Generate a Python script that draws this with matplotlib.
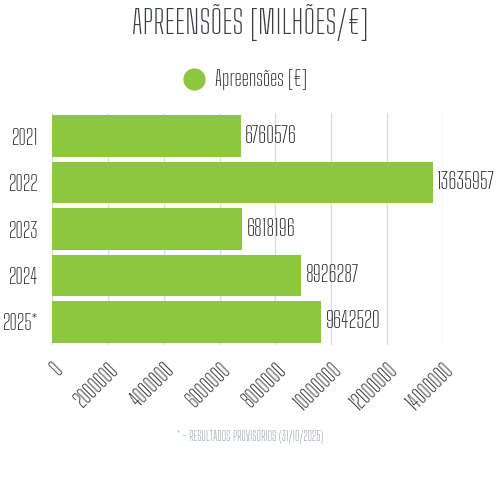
import matplotlib
matplotlib.use("Agg")
import matplotlib.pyplot as plt
from matplotlib.lines import Line2D

years = ["2021", "2022", "2023", "2024", "2025*"]
values = [6760576, 13635957, 6818196, 8926287, 9642520]
xticks = [0, 2000000, 4000000, 6000000, 8000000, 10000000, 12000000, 14000000]
title = "APREENSÕES [MILHÕES/€]"
legend_label = "Apreensões [€]"
footnote = "* - RESULTADOS PROVISÓRIOS (31/10/2025)"

FONT = ["Big Shoulders Text", "DejaVu Sans"]
plt.rcParams["font.family"] = FONT
plt.rcParams["font.weight"] = 600
TXT = "#24262b"
GREEN = "#8dc63f"
FS = 15.5

fig = plt.figure(figsize=(5, 5), dpi=100)
ax = fig.add_axes([0.104, 0.31, 0.782, 0.464])

y = list(range(len(years)))
ax.barh(y, values, height=0.9, color=GREEN, zorder=3)
for yi, v in zip(y, values):
    ax.text(v + 150000, yi, f"{v}", va="center", ha="left", fontsize=16.5, color=TXT)

ax.set_xlim(0, 14000000)
ax.set_ylim(len(years) - 0.5, -0.5)
ax.set_yticks(y)
ax.set_yticklabels(years, fontsize=FS, color=TXT)
ax.set_xticks(xticks)
ax.set_xticklabels([str(t) for t in xticks], rotation=45, ha="right", rotation_mode="anchor",
                   fontsize=FS, color=TXT)
ax.tick_params(axis="y", length=0, pad=10)
ax.tick_params(axis="x", length=0, pad=10)
ax.grid(axis="x", color="#dddddd", linewidth=1, zorder=0)
for s in ax.spines.values():
    s.set_visible(False)

fig.text(0.5, 0.955, title, ha="center", va="center", fontsize=23.5, color="#3a3d45")
handle = Line2D([], [], marker="o", linestyle="none", markersize=15, color=GREEN)
fig.legend([handle], [legend_label], loc="center", bbox_to_anchor=(0.49, 0.84), frameon=False,
           fontsize=FS, labelcolor=TXT, handlelength=1.0, handletextpad=0.5)
fig.text(0.5, 0.128, footnote, ha="center", va="center", fontsize=9, color="#8c9ba5")

fig.savefig("out.png", dpi=100)
